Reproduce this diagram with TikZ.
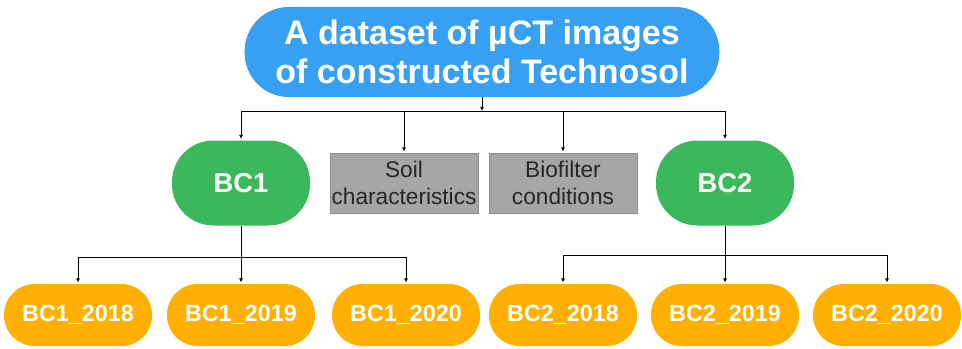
\documentclass[tikz,border=0pt]{standalone}
\usepackage{fontspec}
\setmainfont{Liberation Sans}
\usetikzlibrary{arrows.meta}
\definecolor{topblue}{RGB}{56,160,243}
\definecolor{bcgreen}{RGB}{59,183,92}
\definecolor{yrorange}{RGB}{255,176,0}
\definecolor{boxgrey}{RGB}{166,166,166}
\definecolor{boxtext}{RGB}{38,38,38}
\tikzset{
  pill/.style={draw=none, rectangle, align=center, text=white, font=\bfseries},
  topbox/.style={pill, fill=topblue, minimum width=356pt, minimum height=67.5pt, rounded corners=33pt, inner sep=1pt, font=\bfseries\fontsize{25.5}{29.5}\selectfont},
  bcbox/.style={pill, fill=bcgreen, minimum width=103.5pt, minimum height=63.75pt, rounded corners=31pt, font=\bfseries\fontsize{20.5}{24}\selectfont},
  yrbox/.style={pill, fill=yrorange, minimum width=111pt, minimum height=46.5pt, rounded corners=23pt, font=\bfseries\fontsize{17.5}{20}\selectfont},
  greybox/.style={rectangle, draw=boxgrey!85!black, line width=0.3pt, fill=boxgrey, text=boxtext, align=center, minimum width=111pt, minimum height=45pt, inner sep=1pt, font=\fontsize{17}{20}\selectfont},
  conn/.style={draw=black, line width=0.6pt},
  arr/.style={conn, -{Latex[length=3pt,width=3pt]}}
}
\begin{document}
\begin{tikzpicture}[x=0.75pt,y=-0.75pt]
\useasboundingbox (0,0) rectangle (962,349);
\node[topbox] (top) at (482,52) {A dataset of µCT images\\of constructed Technosol};
\node[bcbox] (bc1) at (241,183) {BC1};
\node[bcbox] (bc2) at (725,183) {BC2};
\node[greybox] (soil) at (404,183) {Soil\\characteristics};
\node[greybox] (bio) at (563,183) {Biofilter\\conditions};
\node[yrbox] (a18) at (78,315) {BC1\_2018};
\node[yrbox] (a19) at (241,315) {BC1\_2019};
\node[yrbox] (a20) at (406,315) {BC1\_2020};
\node[yrbox] (b18) at (563,315) {BC2\_2018};
\node[yrbox] (b19) at (725,315) {BC2\_2019};
\node[yrbox] (b20) at (887,315) {BC2\_2020};
\coordinate (hub) at (482,111);
\coordinate (hubA) at (241,257);
\coordinate (hubB) at (725,255);
% top level
\draw[arr] (top.south) -- (hub);
\draw[conn] (bc1 |- hub) -- (bc2 |- hub);
\draw[arr] (bc1 |- hub) -- ([yshift=1pt]bc1.north);
\draw[arr] (soil |- hub) -- ([yshift=1pt]soil.north);
\draw[arr] (bio |- hub) -- ([yshift=1pt]bio.north);
\draw[arr] (bc2 |- hub) -- ([yshift=1pt]bc2.north);
% BC1 branch
\draw[conn] (bc1.south) -- (hubA);
\draw[conn] (a18 |- hubA) -- (a20 |- hubA);
\draw[arr] (a18 |- hubA) -- ([yshift=1pt]a18.north);
\draw[arr] (a19 |- hubA) -- ([yshift=1pt]a19.north);
\draw[arr] (a20 |- hubA) -- ([yshift=1pt]a20.north);
% BC2 branch
\draw[conn] (bc2.south) -- (hubB);
\draw[conn] (b18 |- hubB) -- (b20 |- hubB);
\draw[arr] (b18 |- hubB) -- ([yshift=1pt]b18.north);
\draw[arr] (b19 |- hubB) -- ([yshift=1pt]b19.north);
\draw[arr] (b20 |- hubB) -- ([yshift=1pt]b20.north);
\end{tikzpicture}
\end{document}
